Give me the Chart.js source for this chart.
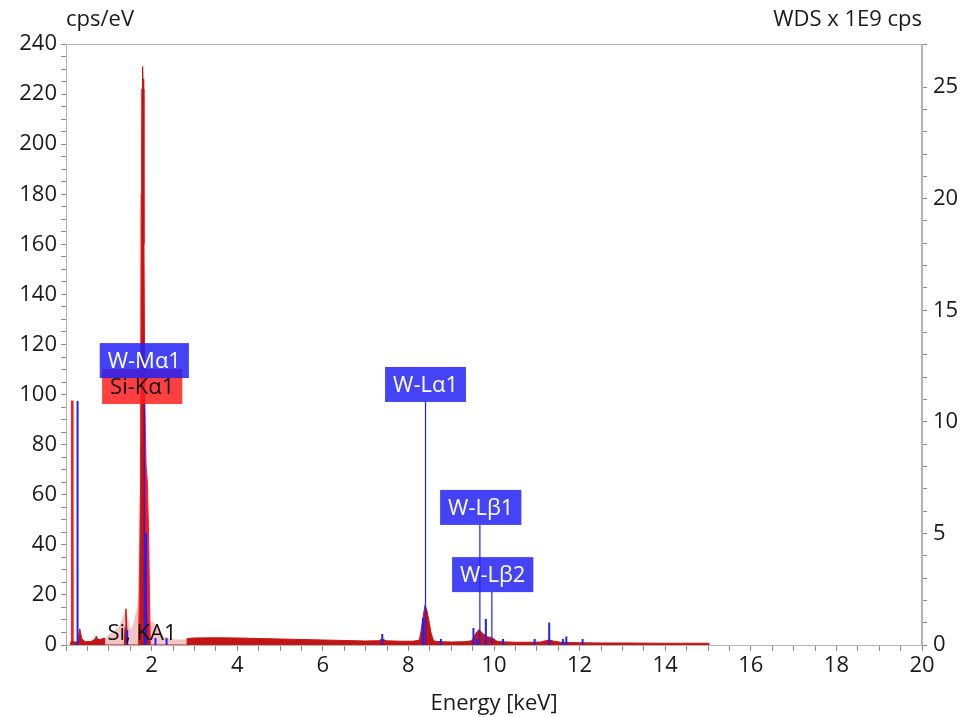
<!DOCTYPE html>
<html>
<head>
<meta charset="utf-8">
<script src="https://cdn.jsdelivr.net/npm/chart.js@4.4.0/dist/chart.umd.min.js"></script>
<style>
  body { margin: 0; background: #fff; }
  canvas { display: block; }
</style>
</head>
<body>
<canvas id="spectrum" width="971" height="717"></canvas>
<script>
// EDS spectrum (cps/eV), dark red; ROI part is left at 0 and drawn pink below
const specE = [0.10, 0.12, 0.20, 0.28, 0.30, 0.32, 0.34, 0.37, 0.45, 0.60, 0.68, 0.71, 0.74, 0.80, 0.88, 0.90,
  0.90, 1.36, 1.38, 1.40, 1.42, 1.44, 1.70, 1.74, 1.76, 1.775, 1.79, 1.80, 1.815, 1.83, 1.85, 1.88, 1.92, 1.96,
  2.83, 2.83, 3.0, 3.5, 4.0, 4.5, 5.0, 5.5, 6.0, 6.5, 7.0, 7.3, 7.39, 7.48, 7.8, 8.1, 8.22, 8.26, 8.30, 8.35,
  8.39, 8.44, 8.49, 8.53, 8.58, 8.63, 8.8, 9.0, 9.3, 9.45, 9.50, 9.58, 9.65, 9.73, 9.85, 9.97, 10.08, 10.3,
  10.5, 10.8, 11.1, 11.2, 11.3, 11.4, 11.6, 12.0, 12.5, 13.0, 14.0, 15.0, 15.02];
const specV = [0, 1.5, 1.2, 1.2, 4, 6.5, 5, 2.5, 1.3, 1.5, 2.5, 3.6, 2.2, 2.2, 2.7, 2.8,
  0, 0, 7, 14.5, 7, 0, 0, 10, 80, 200, 231, 226, 160, 90, 40, 15, 5, 0,
  0, 2.6, 2.8, 2.9, 2.8, 2.6, 2.4, 2.2, 2.0, 1.8, 1.6, 1.7, 2.4, 1.7, 1.5, 1.5, 1.8, 2.2, 6, 12,
  16, 13.3, 8.7, 4.8, 2, 1.4, 1.3, 1.2, 1.3, 1.6, 2.2, 4.7, 6.2, 4.7, 3.3, 2.7, 1.4, 1.2,
  1.1, 1.1, 1.2, 1.7, 2.0, 1.5, 1.0, 0.9, 0.8, 0.8, 0.7, 0.7, 0];

// Si KA1 region of interest (pink)
const roiE = [0.90, 0.91, 1.0, 1.1, 1.24, 1.32, 1.38, 1.40, 1.43, 1.48, 1.53, 1.58, 1.63, 1.67, 1.70, 1.715,
  1.73, 1.75, 1.80, 1.85, 1.88, 1.90, 1.93, 1.96, 2.05, 2.15, 2.25, 2.4, 2.56, 2.83, 2.83];
const roiV = [0, 2, 4, 5, 7, 10, 13, 13.5, 11, 7, 6, 8, 12, 14, 18, 38,
  60, 100, 100, 70, 50, 25, 12, 9, 8.8, 6, 3.5, 2.5, 2, 2, 0];

// bright red overlay
const overE = [0.12, 0.13, 0.15, 0.16, 1.0, 1.69, 1.70, 1.72, 1.74, 1.755, 1.77, 1.80, 1.82, 1.84, 1.87, 1.90, 1.93, 1.95, 1.97];
const overV = [0, 97.5, 97.5, 0, null, 0, 8, 30, 60, 180, 222, 222, 160, 100, 72, 65, 45, 20, 0];

// WDS lines (right axis, x 1E9 cps)
const wdsE = [0.27, 1.43, 1.87, 2.09, 2.35, 7.39, 8.34, 8.76, 9.52, 9.61, 9.81, 10.21, 10.95, 11.29, 11.61, 11.69, 12.07];
const wdsV = [10.93, 0.67, 5.02, 0.31, 0.31, 0.49, 1.21, 0.27, 0.76, 0.27, 1.16, 0.27, 0.27, 1.01, 0.27, 0.38, 0.27];

// line markers (right axis units)
const markE = [1.83, 8.40, 9.67, 9.95];
const markV = [11.96, 10.89, 5.38, 2.37];

// peak labels
const labelNames = ['Si-K\u03b11', 'W-M\u03b11', 'W-L\u03b11', 'W-L\u03b21', 'W-L\u03b22'];
const labelE = [1.78, 1.83, 8.40, 9.69, 9.97];
const labelTop = [10.80, 11.96, 10.89, 5.38, 2.37];
const labelFill = ['rgba(255,30,30,0.85)', 'rgba(35,35,245,0.85)', 'rgba(35,35,245,0.85)', 'rgba(35,35,245,0.85)', 'rgba(35,35,245,0.85)'];
const labelInk = ['#111', '#fff', '#fff', '#fff', '#fff'];

const toPoints = (xs, ys) => xs.map((x, i) => ({ x: x, y: ys[i] }));
const toSticks = (xs, ys) => {
  const pts = [];
  xs.forEach((x, i) => { pts.push({ x: x, y: 0 }, { x: x, y: ys[i] }, { x: x, y: null }); });
  return pts;
};

const FONT = "'Open Sans', sans-serif";
Chart.defaults.font.family = FONT;
Chart.defaults.font.size = 22;
Chart.defaults.color = '#1a1a1a';

const extras = {
  id: 'extras',
  afterDatasetsDraw(chart) {
    const ctx = chart.ctx;
    const a = chart.chartArea;
    const xs = chart.scales.x, y = chart.scales.y, y2 = chart.scales.y2;
    ctx.save();
    ctx.strokeStyle = '#b4b4b4';
    ctx.lineWidth = 1;
    ctx.strokeRect(a.left + 0.5, a.top + 0.5, a.right - a.left - 1, a.bottom - a.top);

    ctx.fillStyle = '#111';
    ctx.font = '22px ' + FONT;
    ctx.textAlign = 'left';
    ctx.textBaseline = 'alphabetic';
    ctx.fillText('Si, KA1', xs.getPixelForValue(0.97), y.getPixelForValue(2));

    ctx.font = '22px ' + FONT;
    ctx.textAlign = 'center';
    ctx.textBaseline = 'middle';
    labelNames.forEach((name, i) => {
      const cx = xs.getPixelForValue(labelE[i]);
      const by = y2.getPixelForValue(labelTop[i]);
      const w = ctx.measureText(name).width + 16;
      const h = 35;
      ctx.fillStyle = labelFill[i];
      ctx.fillRect(cx - w / 2, by - h, w, h);
      ctx.fillStyle = labelInk[i];
      ctx.fillText(name, cx, by - h / 2 + 1);
    });

    ctx.fillStyle = '#1a1a1a';
    ctx.font = '22px ' + FONT;
    ctx.textBaseline = 'middle';
    ctx.textAlign = 'left';
    ctx.fillText('cps/eV', a.left, 20);
    ctx.textAlign = 'right';
    ctx.fillText('WDS x 1E9 cps', a.right, 20);
    ctx.restore();
  }
};

new Chart(document.getElementById('spectrum'), {
  type: 'scatter',
  data: {
    datasets: [
      { data: toSticks(markE, markV), yAxisID: 'y2', showLine: true, borderColor: '#1f1fff', borderWidth: 1.2, pointRadius: 0, fill: false, spanGaps: false, order: 0 },
      { data: toSticks(wdsE, wdsV), yAxisID: 'y2', showLine: true, borderColor: '#2020ff', borderWidth: 2, pointRadius: 0, fill: false, spanGaps: false, order: 1 },
      { data: toPoints(specE, specV), yAxisID: 'y', showLine: true, borderColor: '#c41414', backgroundColor: '#c41414', borderWidth: 1, pointRadius: 0, fill: 'origin', order: 2 },
      { data: toPoints(overE, overV), yAxisID: 'y', showLine: true, borderColor: '#ff1a1a', backgroundColor: '#ff1a1a', borderWidth: 1, pointRadius: 0, fill: 'origin', spanGaps: false, order: 3 },
      { data: toPoints(roiE, roiV), yAxisID: 'y', showLine: true, borderColor: '#f0c0c0', backgroundColor: '#f2c4c4', borderWidth: 1, pointRadius: 0, fill: 'origin', order: 4 }
    ]
  },
  options: {
    responsive: false,
    animation: false,
    layout: { padding: { top: 44, left: 0, right: 0, bottom: 0 } },
    plugins: { legend: { display: false }, tooltip: { enabled: false } },
    scales: {
      x: {
        type: 'linear', min: 0, max: 20, offset: false,
        afterFit: (s) => { s.height = 72; },
        border: { color: '#a0a0a0' },
        grid: { drawOnChartArea: false, tickLength: 6, color: '#8a8a8a' },
        ticks: { stepSize: 0.5, autoSkip: false, maxRotation: 0, padding: 2,
          callback: (v) => (v > 0 && v % 2 === 0 ? v : '') },
        title: { display: true, text: 'Energy [keV]', font: { size: 22 }, padding: { top: 0, bottom: 0 } }
      },
      y: {
        position: 'left', min: 0, max: 240,
        afterFit: (s) => { s.width = 66; },
        border: { color: '#a0a0a0' },
        grid: { drawOnChartArea: false, tickLength: 5, color: '#8a8a8a' },
        ticks: { stepSize: 5, autoSkip: false, padding: 4,
          callback: (v) => (v % 20 === 0 ? v : '') }
      },
      y2: {
        position: 'right', min: 0, max: 26.93,
        afterFit: (s) => { s.width = 49; },
        border: { color: '#b4b4b4' },
        grid: { drawOnChartArea: false, tickLength: 5, color: '#8a8a8a' },
        ticks: { stepSize: 1, autoSkip: false, padding: 6,
          callback: (v) => (Number.isInteger(v) && v % 5 === 0 ? v : '') }
      }
    }
  },
  plugins: [extras]
});
</script>
</body>
</html>
